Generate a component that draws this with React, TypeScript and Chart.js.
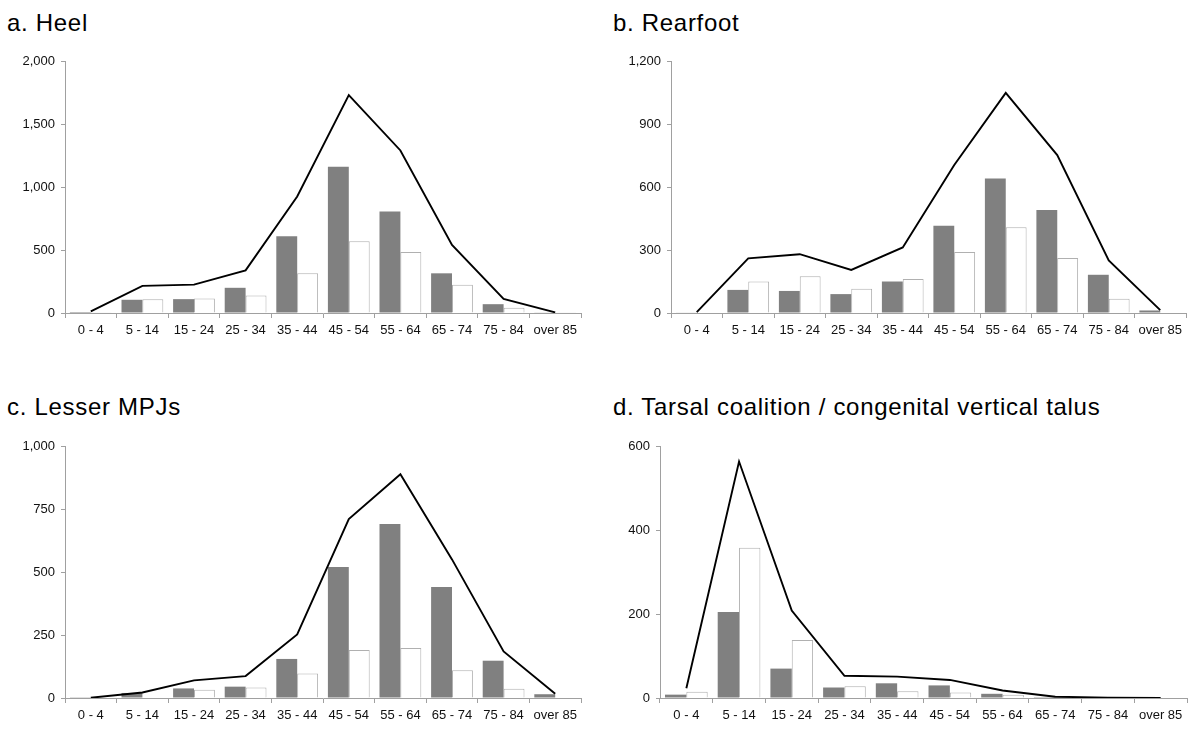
import React, { useEffect, useRef } from "react";
import { Chart, registerables } from "chart.js";

Chart.register(...registerables);

const ageGroups = ["0 - 4", "5 - 14", "15 - 24", "25 - 34", "35 - 44", "45 - 54", "55 - 64", "65 - 74", "75 - 84", "over 85"];

// a. Heel
const heelGrey = [8, 105, 110, 200, 610, 1160, 805, 315, 70, 3];
const heelWhite = [5, 110, 115, 138, 315, 570, 485, 225, 42, 2];
const heelTotal = [13, 215, 225, 338, 925, 1730, 1290, 540, 112, 5];

// b. Rearfoot
const rearGrey = [2, 110, 105, 90, 150, 415, 640, 490, 182, 12];
const rearWhite = [2, 150, 175, 115, 162, 290, 408, 262, 68, 2];
const rearTotal = [4, 260, 280, 205, 312, 705, 1048, 752, 250, 14];

// c. Lesser MPJs
const mpjGrey = [1, 20, 38, 45, 155, 520, 690, 440, 148, 15];
const mpjWhite = [0, 2, 33, 42, 97, 190, 198, 110, 37, 2];
const mpjTotal = [1, 22, 70, 87, 252, 710, 888, 550, 185, 17];

// d. Tarsal coalition / congenital vertical talus
const tarsalGrey = [8, 205, 70, 25, 35, 30, 10, 2, 1, 0];
const tarsalWhite = [15, 358, 138, 28, 16, 13, 8, 1, 0, 0];
const tarsalTotal = [23, 563, 208, 53, 51, 43, 18, 3, 1, 0];

const titles = ["a. Heel", "b. Rearfoot", "c. Lesser MPJs", "d. Tarsal coalition / congenital vertical talus"];
const yMax = [2000, 1200, 1000, 600];
const yStep = [500, 300, 250, 200];

const FONT = "'Liberation Sans', Arial, sans-serif";
const AXIS = "#a0a0a0";

type PanelProps = {
  title: string;
  grey: number[];
  white: number[];
  total: number[];
  max: number;
  step: number;
  left: number;
  top: number;
  yWidth: number;
  padRight: number;
};

function Panel(p: PanelProps) {
  const ref = useRef<HTMLCanvasElement | null>(null);
  useEffect(() => {
    if (!ref.current) return;
    const chart = new Chart(ref.current, {
      type: "bar",
      data: {
        labels: ageGroups,
        datasets: [
          {
            type: "line",
            label: "Total",
            data: p.total,
            borderColor: "#000000",
            borderWidth: 1.9,
            pointRadius: 0,
            tension: 0,
            fill: false,
            order: 0,
          } as any,
          {
            type: "bar",
            label: "Grey",
            data: p.grey,
            backgroundColor: "#808080",
            borderColor: "#7a7a7a",
            borderWidth: 0,
            categoryPercentage: 0.81,
            barPercentage: 1,
            order: 1,
          },
          {
            type: "bar",
            label: "White",
            data: p.white,
            backgroundColor: "#ffffff",
            borderColor: "#b0b0b0",
            borderWidth: 1,
            categoryPercentage: 0.81,
            barPercentage: 1,
            order: 1,
          },
        ],
      },
      options: {
        animation: false,
        responsive: false,
        maintainAspectRatio: false,
        layout: { padding: { top: 16, right: p.padRight, left: 0, bottom: 0 } },
        plugins: {
          legend: { display: false },
          tooltip: { enabled: false },
          title: { display: false },
        },
        scales: {
          x: {
            offset: true,
            grid: {
              display: true,
              offset: true,
              drawOnChartArea: false,
              drawTicks: true,
              tickLength: 5,
              color: AXIS,
            },
            border: { display: true, color: AXIS, width: 1 },
            ticks: {
              color: "#111111",
              font: { family: FONT, size: 13 },
              padding: 5,
              maxRotation: 0,
              autoSkip: false,
            },
            afterFit: (s: any) => {
              s.height = 37;
            },
          },
          y: {
            min: 0,
            max: p.max,
            grid: {
              display: true,
              drawOnChartArea: false,
              drawTicks: true,
              tickLength: 4,
              color: AXIS,
            },
            border: { display: true, color: AXIS, width: 1 },
            ticks: {
              stepSize: p.step,
              color: "#111111",
              font: { family: FONT, size: 13 },
              padding: 6,
              callback: (v: any) => Number(v).toLocaleString("en-US"),
            },
            afterFit: (s: any) => {
              s.width = p.yWidth;
            },
          },
        },
      },
    });
    return () => chart.destroy();
  }, []);
  return (
    <div style={{ position: "absolute", left: p.left, top: p.top, width: 600, height: 305 }}>
      <canvas ref={ref} width={600} height={305} style={{ width: 600, height: 305, display: "block" }} />
    </div>
  );
}

function Title({ text, left, top }: { text: string; left: number; top: number }) {
  return (
    <div
      style={{
        position: "absolute",
        left,
        top,
        fontFamily: FONT,
        fontSize: 24,
        letterSpacing: "0.7px",
        lineHeight: "24px",
        color: "#000",
        whiteSpace: "nowrap",
      }}
    >
      {text}
    </div>
  );
}

export default function App() {
  return (
    <div style={{ position: "absolute", left: 0, top: 0, width: 1200, height: 750, background: "#fff", overflow: "hidden" }}>
      <Title text={titles[0]} left={7} top={11} />
      <Title text={titles[1]} left={613} top={11} />
      <Title text={titles[2]} left={7} top={395} />
      <Title text={titles[3]} left={613} top={395} />
      <Panel title={titles[0]} grey={heelGrey} white={heelWhite} total={heelTotal} max={yMax[0]} step={yStep[0]} left={0} top={45} yWidth={65} padRight={19} />
      <Panel title={titles[1]} grey={rearGrey} white={rearWhite} total={rearTotal} max={yMax[1]} step={yStep[1]} left={600} top={45} yWidth={71} padRight={14} />
      <Panel title={titles[2]} grey={mpjGrey} white={mpjWhite} total={mpjTotal} max={yMax[2]} step={yStep[2]} left={0} top={430} yWidth={65} padRight={19} />
      <Panel title={titles[3]} grey={tarsalGrey} white={tarsalWhite} total={tarsalTotal} max={yMax[3]} step={yStep[3]} left={600} top={430} yWidth={60} padRight={13} />
    </div>
  );
}
